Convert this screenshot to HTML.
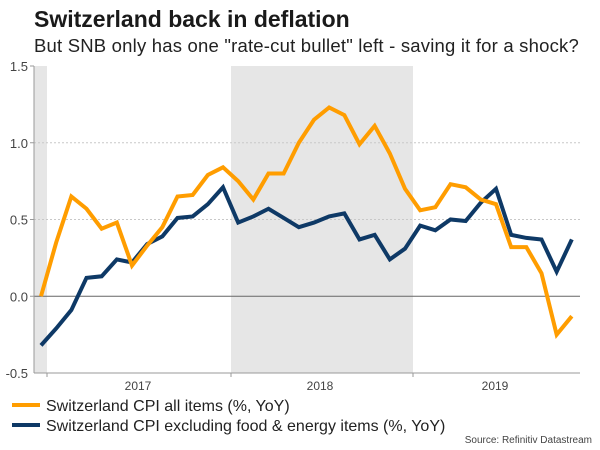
<!DOCTYPE html>
<html><head><meta charset="utf-8"><style>
body{margin:0;background:#fff;font-family:"Liberation Sans",sans-serif;}
#wrap{position:relative;width:600px;height:450px;overflow:hidden;}
.t{position:absolute;white-space:nowrap;color:#222;}
</style></head><body>
<div id="wrap">
<div class="t" style="left:34px;top:6px;font-size:23px;font-weight:bold;color:#1a1a1a">Switzerland back in deflation</div>
<div class="t" style="left:34px;top:35px;font-size:18.5px;letter-spacing:0.2px;color:#222">But SNB only has one "rate-cut bullet" left - saving it for a shock?</div>
<svg id="chart" width="600" height="450" style="position:absolute;left:0;top:0"></svg>
<div class="t" style="right:8px;top:435px;font-size:10px;color:#444">Source: Refinitiv Datastream</div>
</div>
<script>
const yTicks=[1.5,1.0,0.5,0.0,-0.5];
const yearLabels=["2017","2018","2019"];
const cpiAll=[0.0,0.35,0.65,0.57,0.44,0.48,0.20,0.33,0.45,0.65,0.66,0.79,0.84,0.75,0.63,0.80,0.80,1.00,1.15,1.23,1.18,0.99,1.11,0.93,0.70,0.56,0.58,0.73,0.71,0.63,0.60,0.32,0.32,0.15,-0.25,-0.13];
const cpiCore=[-0.32,-0.21,-0.09,0.12,0.13,0.24,0.22,0.34,0.39,0.51,0.52,0.60,0.71,0.48,0.52,0.57,0.51,0.45,0.48,0.52,0.54,0.37,0.40,0.24,0.31,0.46,0.43,0.50,0.49,0.61,0.70,0.40,0.38,0.37,0.16,0.37];
const NS="http://www.w3.org/2000/svg";
const svg=document.getElementById('chart');
const L=34,R=580,T=66,B=373;
const mw=(413-231)/12;
function y(v){return T+(1.5-v)/2*(B-T);}
function x(i){return 41+i*mw;}
function mk(tag,attrs){const e=document.createElementNS(NS,tag);for(const k in attrs)e.setAttribute(k,attrs[k]);svg.appendChild(e);return e;}
let s1=mk('rect',{x:L,y:T,width:47-L,height:B-T,fill:'#e6e6e6'});


let s2=mk('rect',{x:231,y:T,width:413-231,height:B-T,fill:'#e6e6e6'});


yTicks.forEach(v=>{
  if(v===0.5||v===1.0){let g=mk('line',{x1:L,x2:R,y1:y(v),y2:y(v),stroke:'#c8c8c8','stroke-dasharray':'2,2'});}
  if(v!==-0.5){mk('line',{x1:L-4,x2:L,y1:y(v),y2:y(v),stroke:'#999'});}
  let t=mk('text',{x:L-6,y:y(v)+5,'text-anchor':'end','font-size':'13',fill:'#444','font-family':'Liberation Sans, sans-serif'});
  t.textContent=v.toFixed(1);
  
  
});
let z=mk('line',{x1:L,x2:R,y1:y(0),y2:y(0),stroke:'#666','stroke-width':1});


let ya=mk('line',{x1:L,x2:L,y1:T,y2:B,stroke:'#999'});


let xa=mk('line',{x1:L,x2:R,y1:B,y2:B,stroke:'#999'});


[47,231,413].forEach(px=>mk('line',{x1:px,x2:px,y1:B,y2:B+4,stroke:'#999'}));
yearLabels.forEach((lab,k)=>{
  const cx=47+(k+0.5)*12*mw+(k==2?-7:0);
  let t=mk('text',{x:cx,y:390,'text-anchor':'middle','font-size':'12',fill:'#444','font-family':'Liberation Sans, sans-serif'});
  t.textContent=lab;
  
  
});
function line(data,col,name){
  const p=mk('polyline',{points:data.map((v,i)=>x(i)+','+y(v)).join(' '),fill:'none',stroke:col,'stroke-width':4,'stroke-linejoin':'miter'});
  
  
}
line(cpiCore,'#0e3966','series-cpi-core');
line(cpiAll,'#ff9d00','series-cpi-all');
const leg=[['#ff9d00','Switzerland CPI all items (%, YoY)'],['#0e3966','Switzerland CPI excluding food & energy items (%, YoY)']];
leg.forEach((l,k)=>{
  const yy=405+k*20;
  let r=mk('rect',{x:12,y:yy-2,width:28,height:4,fill:l[0]});
  
  
  let t=mk('text',{x:46,y:yy+6,'font-size':'16',fill:'#222','font-family':'Liberation Sans, sans-serif'});
  t.textContent=l[1];
  
  
});
</script>
</body></html>
